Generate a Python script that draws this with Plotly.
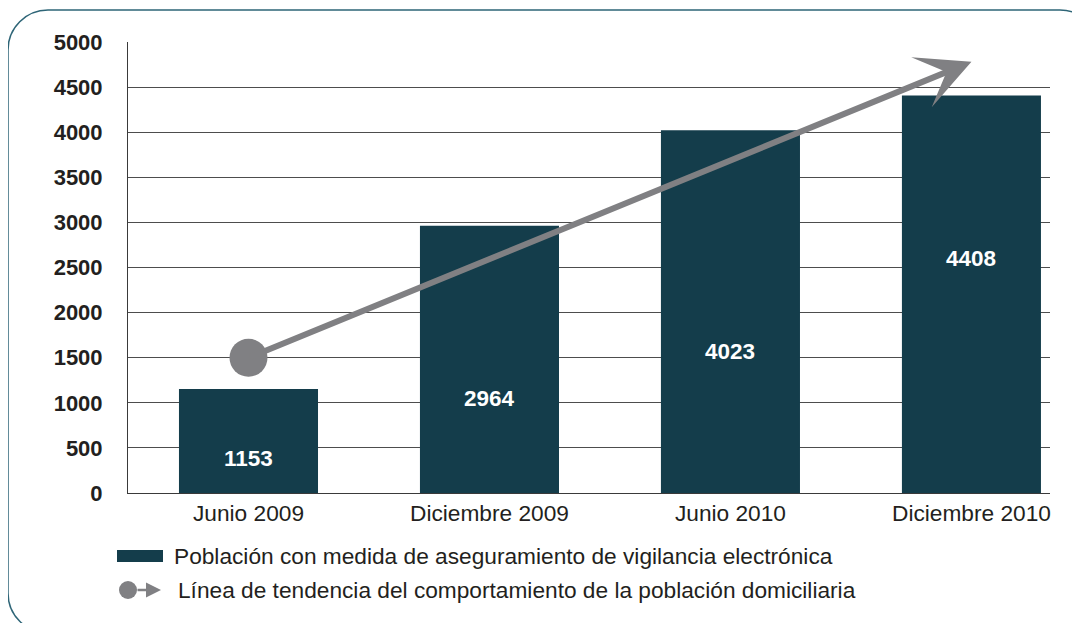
import plotly.graph_objects as go

# ---- data ----
categories = ["Junio 2009", "Diciembre 2009", "Junio 2010", "Diciembre 2010"]
poblacion = [1153, 2964, 4023, 4408]
trend_x = [0, 3]
trend_y = [1500, 4780]
y_ticks = [0, 500, 1000, 1500, 2000, 2500, 3000, 3500, 4000, 4500, 5000]
legend_bar = "Población con medida de aseguramiento de vigilancia electrónica"
legend_trend = "Línea de tendencia del comportamiento de la población domiciliaria"

# ---- style ----
label_y = [377, 1053, 1574, 2605]  # vertical placement of value labels
BAR = "#143d4b"
GRAY = "#808083"
FRAME = "#2e6577"
FONT = "Liberation Sans, Arial, sans-serif"
TXT = "#231f20"

OFF = 8  # page body margin
W, H = 1080 - OFF, 623 - OFF
ML, MR, MT, MB = 128 - OFF, 30, 42 - OFF, 130
PW, PH = W - ML - MR, H - MT - MB


def px(x):
    return (x - OFF - ML) / PW


def py(y):
    return (H - MB - (y - OFF)) / PH


xs = list(range(len(categories)))

fig = go.Figure()
fig.add_trace(go.Bar(x=xs, y=poblacion, width=0.577, marker=dict(color=BAR, line=dict(width=0)),
                     showlegend=False, hoverinfo="y"))
fig.add_trace(go.Scatter(x=[trend_x[0]], y=[trend_y[0]], mode="markers",
                         marker=dict(size=38, color=GRAY), showlegend=False, cliponaxis=False))

# trend arrow
fig.add_annotation(x=trend_x[1], y=trend_y[1], ax=trend_x[0], ay=trend_y[0],
                   xref="x", yref="y", axref="x", ayref="y", text="",
                   showarrow=True, arrowhead=3, arrowwidth=6, arrowsize=1.5, arrowcolor=GRAY)

# value labels
for i, v in enumerate(poblacion):
    fig.add_annotation(x=xs[i], y=label_y[i], text=str(v), showarrow=False,
                       font=dict(family=FONT, size=22.5, color="white", weight="bold"))

# rounded frame
L, T, R, B, r = 8, 10, 1100, 633, 40
k = 0.5523 * r
path = (f"M {px(L)},{py(T + r)} "
        f"C {px(L)},{py(T + r - k)} {px(L + r - k)},{py(T)} {px(L + r)},{py(T)} "
        f"L {px(R - r)},{py(T)} "
        f"C {px(R - r + k)},{py(T)} {px(R)},{py(T + r - k)} {px(R)},{py(T + r)} "
        f"L {px(R)},{py(B - r)} "
        f"C {px(R)},{py(B - r + k)} {px(R - r + k)},{py(B)} {px(R - r)},{py(B)} "
        f"L {px(L + r)},{py(B)} "
        f"C {px(L + r - k)},{py(B)} {px(L)},{py(B - r + k)} {px(L)},{py(B - r)} Z")
fig.add_shape(type="path", path=path, xref="paper", yref="paper",
              line=dict(color=FRAME, width=1.5), layer="below")

# custom legend
fig.add_shape(type="rect", xref="paper", yref="paper", x0=px(117), x1=px(163), y0=py(562), y1=py(550),
              fillcolor=BAR, line=dict(width=0))
fig.add_annotation(xref="paper", yref="paper", x=px(172), y=py(556), xanchor="left", yanchor="middle",
                   text=legend_bar, showarrow=False, font=dict(family=FONT, size=22.7, color=TXT))
fig.add_shape(type="circle", xref="paper", yref="paper", x0=px(119), x1=px(137), y0=py(599), y1=py(581),
              fillcolor=GRAY, line=dict(width=0))
fig.add_annotation(xref="paper", yref="paper", x=px(161), y=py(590), ax=-25, ay=0, text="",
                   showarrow=True, arrowhead=2, arrowwidth=2.5, arrowsize=1.2, arrowcolor=GRAY)
fig.add_annotation(xref="paper", yref="paper", x=px(176), y=py(590), xanchor="left", yanchor="middle",
                   text=legend_trend, showarrow=False, font=dict(family=FONT, size=22.7, color=TXT))

fig.update_layout(
    width=W, height=H,
    margin=dict(l=ML, r=MR, t=MT, b=MB),
    plot_bgcolor="white", paper_bgcolor="white",
    font=dict(family=FONT, color=TXT),
    showlegend=False,
    xaxis=dict(range=[-0.5, 3.326], tickvals=xs, ticktext=categories, showgrid=False,
               showline=True, linecolor="#3a3a3a", linewidth=1, ticks="", zeroline=False,
               tickfont=dict(family=FONT, size=22.7, color=TXT), fixedrange=True),
    yaxis=dict(range=[0, 5000], tickvals=y_ticks, showgrid=True, gridcolor="#4d4d4d", gridwidth=1,
               showline=True, linecolor="#3a3a3a", linewidth=1, ticks="", zeroline=False,
               tickfont=dict(family=FONT, size=22, color=TXT, weight="bold"), ticklabelstandoff=20,
               fixedrange=True),
)

fig.write_html("out.html")
